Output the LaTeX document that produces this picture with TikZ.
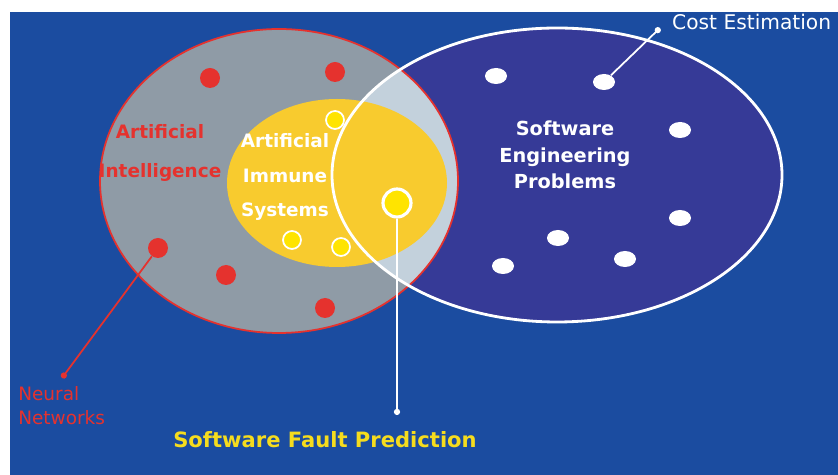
\documentclass[tikz,border=0pt]{standalone}
\usepackage{fontspec}
\setmainfont{DejaVu Sans}
\usetikzlibrary{arrows.meta}
\usetikzlibrary{shapes.geometric}

\definecolor{bgblue}{HTML}{1B4CA0}
\definecolor{aigray}{HTML}{8F9BA6}
\definecolor{mixgray}{HTML}{C3D1DC}
\definecolor{seblue}{HTML}{363A97}
\definecolor{aired}{HTML}{E5322E}
\definecolor{aisyellow}{HTML}{F8CB2E}
\definecolor{dotyellow}{HTML}{FFE400}
\definecolor{labelyellow}{HTML}{F5DC1E}

\tikzset{
  reddot/.style={circle, fill=aired, inner sep=0pt, minimum size=0.4cm},
  whitedot/.style={ellipse, fill=white, inner sep=0pt, minimum width=0.44cm, minimum height=0.32cm},
  yellowdot/.style={circle, fill=dotyellow, draw=white, line width=1pt, inner sep=0pt, minimum size=0.36cm},
  redlabel/.style={text=aired, font=\bfseries\fontsize{10.5}{22.5}\selectfont, align=center},
  whitelabel/.style={text=white, font=\bfseries\fontsize{10.5}{19.5}\selectfont, align=center},
  pointer/.style={line width=1pt, -{Circle[length=3.5pt]}}
}

\begin{document}
\begin{tikzpicture}[x=0.02cm, y=-0.02cm]
      \useasboundingbox (0,0) rectangle (838,475);
      \fill[white] (0,0) rectangle (838,475);
      \fill[bgblue] (10,12) rectangle (838,475);

      % the two big sets
      \fill[aigray] (279,181) ellipse [x radius=179, y radius=152];
      \fill[seblue] (557,175) ellipse [x radius=225, y radius=147];
      \begin{scope}
        \clip (279,181) ellipse [x radius=179, y radius=152];
        \fill[mixgray] (557,175) ellipse [x radius=225, y radius=147];
      \end{scope}
      \draw[aired, line width=1pt] (279,181) ellipse [x radius=179, y radius=152];
      \fill[aisyellow] (337,183) ellipse [x radius=110, y radius=84];
      \draw[white, line width=1.6pt] (557,175) ellipse [x radius=225, y radius=147];

      \node[reddot] (r1) at (210,78) {};
      \node[reddot] (r2) at (335,72) {};
      \node[reddot] (r3) at (158,248) {};
      \node[reddot] (r4) at (226,275) {};
      \node[reddot] (r5) at (325,308) {};

      \node[yellowdot] (y1) at (335,120) {};
      \node[yellowdot] (y2) at (292,240) {};
      \node[yellowdot] (y3) at (341,247) {};
      \node[yellowdot, minimum size=0.56cm, line width=1.8pt] (sfp) at (397,203) {};

      \node[whitedot] (w1) at (496,76) {};
      \node[whitedot] (w2) at (604,82) {};
      \node[whitedot] (w3) at (680,130) {};
      \node[whitedot] (w4) at (680,218) {};
      \node[whitedot] (w5) at (558,238) {};
      \node[whitedot] (w6) at (503,266) {};
      \node[whitedot] (w7) at (625,259) {};

      \node[redlabel] (ai) at (160,153) {Artificial\\Intelligence};
      \node[whitelabel] (ais) at (285,177) {Artificial\\Immune\\Systems};
      \node[whitelabel, font=\bfseries\fontsize{11}{15}\selectfont] (sep) at (565,155) {Software\\Engineering\\Problems};

      \node[text=white, anchor=west, font=\fontsize{11.5}{14}\selectfont] (ce) at (666,22) {Cost Estimation};
      \node[text=aired, anchor=north west, align=left, font=\fontsize{10.5}{14}\selectfont, inner sep=0pt] (nn) at (18,386) {Neural\\Networks};
      \node[text=labelyellow, font=\bfseries\fontsize{12}{14}\selectfont] (fault) at (325,440) {Software Fault Prediction};

      \coordinate (ce end) at (660,28);
      \coordinate (nn end) at (62,378);
      \coordinate (fault end) at (397,415);
      \draw[pointer, white] (w2) -- (ce end);
      \draw[pointer, aired] (r3) -- (nn end);
      \draw[pointer, white] (sfp) -- (fault end);
\end{tikzpicture}
\end{document}
